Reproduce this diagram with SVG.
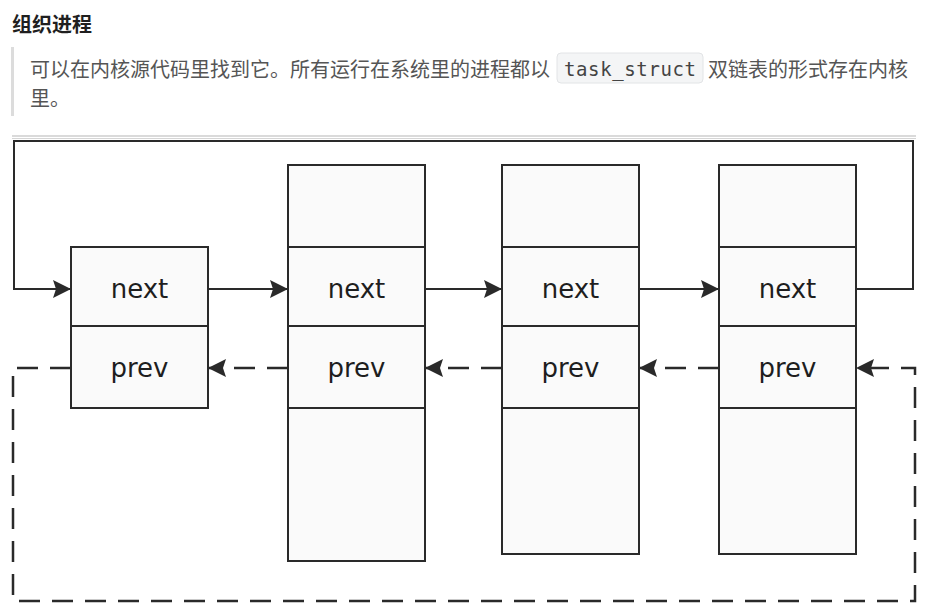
<svg xmlns="http://www.w3.org/2000/svg" width="945" height="613" viewBox="0 0 945 613">
<defs>
<style>
.cn{font-family:"Noto Sans CJK SC","Noto Sans",sans-serif}
.lbl{font-family:"DejaVu Sans",sans-serif;font-size:26px;fill:#1e1e1e;text-anchor:middle}
.box{fill:#fafafa;stroke:#2a2a2a;stroke-width:2}
.div{stroke:#2a2a2a;stroke-width:2}
.solid{fill:none;stroke:#2a2a2a;stroke-width:2}
.dash{fill:none;stroke:#2a2a2a;stroke-width:2.5;stroke-dasharray:21 12}
</style>
<marker id="ah2" viewBox="0 0 18 18" refX="18" refY="9" markerWidth="18" markerHeight="18" markerUnits="userSpaceOnUse" orient="auto">
<path d="M0,0 L18,9 L0,18 L3,9 Z" fill="#2a2a2a"/>
</marker>
</defs>
<rect width="945" height="613" fill="#fff"/>
<g id="header">
<text x="12" y="32" class="cn" font-size="20" font-weight="bold" fill="#1f1f1f">组织进程</text>
<rect x="11" y="47" width="3" height="69" fill="#dcdcdc"/>
<text x="30" y="77" class="cn" font-size="20" fill="#555">可以在内核源代码里找到它。所有运行在系统里的进程都以</text>
<rect x="557" y="53" width="146" height="30" rx="4" fill="#f4f5f6" stroke="#e2e4e6"/>
<text x="630" y="76" font-family="'DejaVu Sans Mono','Liberation Mono',monospace" font-size="19" fill="#444" text-anchor="middle" textLength="132">task_struct</text>
<text x="708" y="77" class="cn" font-size="20" fill="#555">双链表的形式存在内核</text>
<text x="30" y="106" class="cn" font-size="20" fill="#555">里。</text>
<line x1="12" y1="136" x2="916" y2="136" stroke="#b5b5b5" stroke-width="1"/>
<line x1="12" y1="138.5" x2="916" y2="138.5" stroke="#d5d5d5" stroke-width="1"/>
</g>
<g id="connectors">
<path class="solid" d="M856,289 H913 V141 H14 V289 H71" marker-end="url(#ah2)"/>
<path class="solid" d="M208,289 H288" marker-end="url(#ah2)"/>
<path class="solid" d="M425,289 H502" marker-end="url(#ah2)"/>
<path class="solid" d="M639,289 H719" marker-end="url(#ah2)"/>
<path class="dash" d="M288,368 H208" marker-end="url(#ah2)"/>
<path class="dash" d="M502,368 H425" marker-end="url(#ah2)"/>
<path class="dash" d="M719,368 H639" marker-end="url(#ah2)"/>
<path class="dash" d="M71,368 H13 V601 H915 V368 H856" marker-end="url(#ah2)"/>
</g>
<g id="node1">
<rect class="box" x="71" y="247" width="137" height="161"/>
<line class="div" x1="71" y1="326" x2="208" y2="326"/>
<text class="lbl" x="139.5" y="298">next</text>
<text class="lbl" x="139.5" y="377">prev</text>
</g>
<g id="node2">
<rect class="box" x="288" y="165" width="137" height="396"/>
<line class="div" x1="288" y1="247" x2="425" y2="247"/>
<line class="div" x1="288" y1="326" x2="425" y2="326"/>
<line class="div" x1="288" y1="408" x2="425" y2="408"/>
<text class="lbl" x="356.5" y="298">next</text>
<text class="lbl" x="356.5" y="377">prev</text>
</g>
<g id="node3">
<rect class="box" x="502" y="165" width="137" height="389"/>
<line class="div" x1="502" y1="247" x2="639" y2="247"/>
<line class="div" x1="502" y1="326" x2="639" y2="326"/>
<line class="div" x1="502" y1="408" x2="639" y2="408"/>
<text class="lbl" x="570.5" y="298">next</text>
<text class="lbl" x="570.5" y="377">prev</text>
</g>
<g id="node4">
<rect class="box" x="719" y="165" width="137" height="389"/>
<line class="div" x1="719" y1="247" x2="856" y2="247"/>
<line class="div" x1="719" y1="326" x2="856" y2="326"/>
<line class="div" x1="719" y1="408" x2="856" y2="408"/>
<text class="lbl" x="787.5" y="298">next</text>
<text class="lbl" x="787.5" y="377">prev</text>
</g>
</svg>
